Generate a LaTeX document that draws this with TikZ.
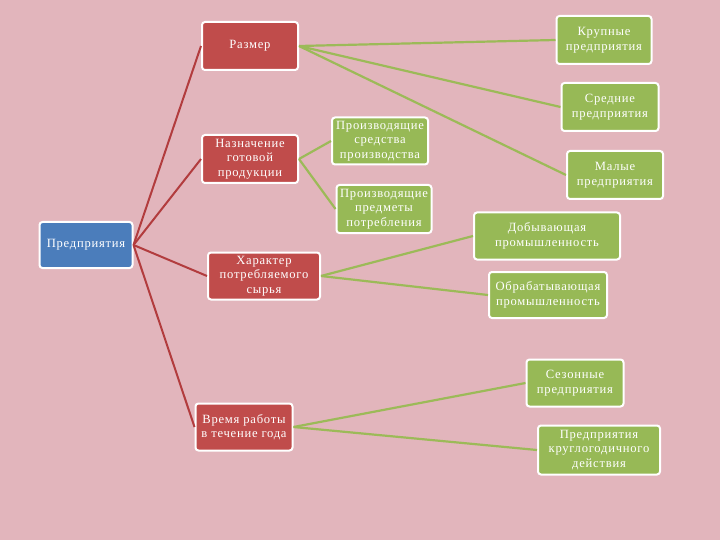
\documentclass[tikz,border=0pt]{standalone}
\usepackage{fontspec}
\setmainfont{Liberation Serif}[LetterSpace=6]
\definecolor{bgpink}{HTML}{E2B5BC}
\definecolor{boxred}{HTML}{C04C4B}
\definecolor{boxgreen}{HTML}{97B956}
\definecolor{boxblue}{HTML}{4B7DBB}
\definecolor{linered}{HTML}{B23C3E}
\definecolor{linegreen}{HTML}{9CBA58}
\tikzset{
  boxbase/.style={draw=white, line width=2pt, rounded corners=3pt, text=white,
    align=center, inner sep=1pt, font=\fontsize{12.6}{14.5}\selectfont},
  redbox/.style={boxbase, fill=boxred},
  greenbox/.style={boxbase, fill=boxgreen},
  bluebox/.style={boxbase, fill=boxblue},
  redline/.style={draw=linered, line width=2pt},
  greenline/.style={draw=linegreen, line width=2.2pt},
}
\begin{document}
\begin{tikzpicture}[x=1pt,y=-1pt]
\fill[bgpink] (0,0) rectangle (720,540);
\useasboundingbox (0,0) rectangle (720,540);

\node[bluebox, minimum width=93pt, minimum height=46pt] (pred) at (86,245) {Предприятия};

\node[redbox, minimum width=96pt, minimum height=48pt] (razm) at (250,46) {Размер};
\node[redbox, minimum width=96pt, minimum height=48pt] (naz) at (250,159) {Назначение\\готовой\\продукции};
\node[redbox, minimum width=112pt, minimum height=47pt] (har) at (264,276) {Характер\\потребляемого\\сырья};
\node[redbox, minimum width=97pt, minimum height=47pt] (vrem) at (244,427) {Время работы\\в течение года};

\node[greenbox, minimum width=96pt, minimum height=47pt] (psp) at (380,141) {Производящие\\средства\\производства};
\node[greenbox, minimum width=95pt, minimum height=48pt] (ppp) at (384,209) {Производящие\\предметы\\потребления};

\node[greenbox, minimum width=95pt, minimum height=48pt] (krup) at (604,40) {Крупные\\предприятия};
\node[greenbox, minimum width=97pt, minimum height=48pt] (sred) at (610,107) {Средние\\предприятия};
\node[greenbox, minimum width=96pt, minimum height=48pt] (mal) at (615,175) {Малые\\предприятия};

\node[greenbox, minimum width=146pt, minimum height=47pt] (dob) at (547,236) {Добывающая\\промышленность};
\node[greenbox, minimum width=118pt, minimum height=46pt] (obr) at (548,295) {Обрабатывающая\\промышленность};

\node[greenbox, minimum width=97pt, minimum height=47pt] (sez) at (575,383) {Сезонные\\предприятия};
\node[greenbox, minimum width=122pt, minimum height=49pt] (krug) at (599,450) {Предприятия\\круглогодичного\\действия};

\foreach \t in {razm,naz,har,vrem}
  \draw[redline] (pred.east) -- (\t.west);
\foreach \t in {krup,sred,mal}
  \draw[greenline] (razm.east) -- (\t.west);
\foreach \t in {psp,ppp}
  \draw[greenline] (naz.east) -- (\t.west);
\foreach \t in {dob,obr}
  \draw[greenline] (har.east) -- (\t.west);
\foreach \t in {sez,krug}
  \draw[greenline] (vrem.east) -- (\t.west);
\end{tikzpicture}
\end{document}
